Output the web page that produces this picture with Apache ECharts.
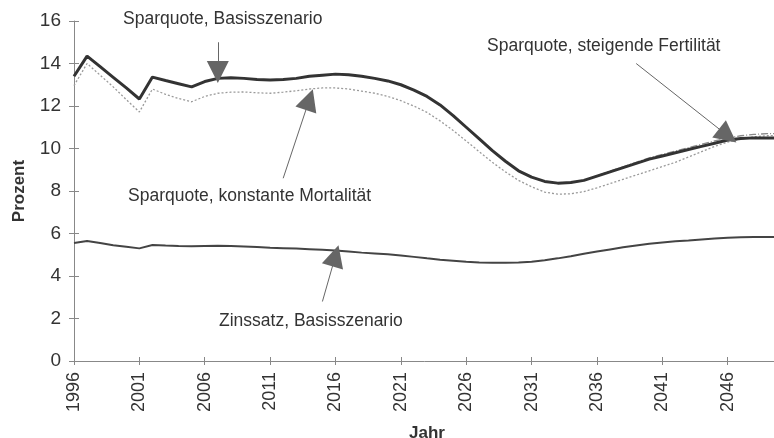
<!DOCTYPE html>
<html>
<head>
<meta charset="utf-8">
<script src="https://cdn.jsdelivr.net/npm/echarts@6/dist/echarts.min.js"></script>
<style>
  html, body { margin: 0; padding: 0; background: #fff; }
  #chart { width: 774px; height: 438px; }
</style>
</head>
<body>
<div id="chart"></div>
<script>
// Jahre 1996..2050
const years = [];
for (let y = 1996; y <= 2050; y++) years.push(String(y));

const yTicks = [0, 2, 4, 6, 8, 10, 12, 14, 16];

const sparBasis = [
  13.4, 14.35, 13.85, 13.35, 12.85, 12.33, 13.36, 13.2, 13.05, 12.9,
  13.15, 13.3, 13.33, 13.3, 13.25, 13.22, 13.25, 13.3, 13.4, 13.45,
  13.5, 13.47, 13.4, 13.3, 13.18, 13.0, 12.75, 12.45, 12.05, 11.55,
  11.0, 10.45, 9.9, 9.4, 8.95, 8.65, 8.45, 8.37, 8.4, 8.5,
  8.7, 8.9, 9.1, 9.3, 9.5, 9.65, 9.8, 9.95, 10.1, 10.25,
  10.4, 10.47, 10.5, 10.5, 10.5
];

const sparMortalitaet = [
  12.96, 14.0, 13.45, 12.9, 12.3, 11.72, 12.8, 12.55, 12.35, 12.2,
  12.45, 12.6, 12.65, 12.66, 12.62, 12.6, 12.65, 12.72, 12.8, 12.85,
  12.85, 12.8, 12.7, 12.6, 12.45, 12.25, 12.0, 11.7, 11.3, 10.85,
  10.35, 9.85, 9.35, 8.9, 8.5, 8.2, 7.95, 7.85, 7.87, 7.97,
  8.15, 8.35, 8.55, 8.75, 8.95, 9.15, 9.35, 9.6, 9.85, 10.1,
  10.3, 10.45, 10.55, 10.6, 10.62
];

const sparFertilitaet = [
  13.4, 14.35, 13.85, 13.35, 12.85, 12.33, 13.36, 13.2, 13.05, 12.9,
  13.15, 13.3, 13.33, 13.3, 13.25, 13.22, 13.25, 13.3, 13.4, 13.45,
  13.5, 13.47, 13.4, 13.3, 13.18, 13.0, 12.75, 12.45, 12.05, 11.55,
  11.0, 10.45, 9.9, 9.4, 8.95, 8.65, 8.45, 8.37, 8.4, 8.5,
  8.72, 8.93, 9.14, 9.35, 9.56, 9.72, 9.88, 10.04, 10.2, 10.36,
  10.5, 10.6, 10.66, 10.7, 10.7
];

const zinsBasis = [
  5.55, 5.65, 5.55, 5.45, 5.38, 5.3, 5.46, 5.43, 5.41, 5.4,
  5.41, 5.42, 5.41, 5.39, 5.36, 5.33, 5.31, 5.29, 5.26, 5.23,
  5.2, 5.15, 5.1, 5.06, 5.02, 4.97, 4.9, 4.83, 4.77, 4.72,
  4.67, 4.63, 4.62, 4.62, 4.63, 4.67, 4.74, 4.83, 4.93, 5.05,
  5.15, 5.25, 5.35, 5.44, 5.52, 5.58, 5.63, 5.67, 5.72, 5.76,
  5.8, 5.82, 5.83, 5.83, 5.83
];

// Beschriftungspfeile: [Start, Spitze] in Datenkoordinaten
const arrowBasis = [['2007', 15.0], ['2007', 13.6]];
const arrowMortalitaet = [['2012', 8.6], ['2014', 12.3]];
const arrowFertilitaet = [['2039', 14.0], ['2046', 10.6]];
const arrowZins = [['2015', 2.8], ['2016', 4.95]];

const textColor = '#333';
const font = 'Liberation Sans, Arial, sans-serif';

function arrow(pts) {
  return {
    silent: true,
    animation: false,
    symbol: ['none', 'triangle'],
    symbolSize: [22, 22],
    label: { show: false },
    lineStyle: { color: '#666', width: 1, type: 'solid' },
    itemStyle: { color: '#2e2e2e' },
    data: [[{ coord: pts[0] }, { coord: pts[1] }]]
  };
}

const chart = echarts.init(document.getElementById('chart'));

chart.setOption({
  animation: false,
  backgroundColor: '#fff',
  grid: { left: 74, right: -6, top: 21, bottom: 77, containLabel: false, outerBoundsMode: 'none' },
  xAxis: [
    {
      type: 'category',
      data: years,
      boundaryGap: false,
      name: 'Jahr',
      nameLocation: 'middle',
      nameGap: 64,
      nameTextStyle: { color: textColor, fontFamily: font, fontSize: 17, fontWeight: 'bold' },
      axisLine: { lineStyle: { color: '#888', width: 1 } },
      axisTick: { interval: 4, length: 4, lineStyle: { color: '#888' } },
      axisLabel: {
        interval: 4,
        rotate: 90,
        margin: 11,
        color: textColor,
        fontFamily: font,
        fontSize: 18
      },
      splitLine: { show: false }
    },
    {
      type: 'category',
      data: years,
      boundaryGap: false,
      position: 'bottom',
      axisLine: { show: false },
      axisTick: { inside: true, interval: 4, length: 4, lineStyle: { color: '#888' } },
      axisLabel: { show: false },
      splitLine: { show: false }
    }
  ],
  yAxis: [
    {
      type: 'value',
      min: 0,
      max: 16,
      interval: 2,
      name: 'Prozent',
      nameLocation: 'middle',
      nameGap: 46,
      nameTextStyle: { color: textColor, fontFamily: font, fontSize: 17, fontWeight: 'bold' },
      axisLine: { show: true, lineStyle: { color: '#888', width: 1 } },
      axisTick: { show: true, length: 5, lineStyle: { color: '#888' } },
      axisLabel: {
        margin: 13,
        color: textColor,
        fontFamily: font,
        fontSize: 19,
        formatter: (v) => (yTicks.includes(v) ? String(v) : '')
      },
      splitLine: { show: false }
    },
    {
      type: 'value',
      min: 0,
      max: 16,
      interval: 2,
      position: 'left',
      axisLine: { show: false },
      axisTick: { show: true, inside: true, length: 5, lineStyle: { color: '#888' } },
      axisLabel: { show: false },
      splitLine: { show: false }
    }
  ],
  graphic: [
    { type: 'text', left: 123, top: 10, style: { text: 'Sparquote, Basisszenario', fill: textColor, font: '17.5px ' + font } },
    { type: 'text', left: 487, top: 37, style: { text: 'Sparquote, steigende Fertilität', fill: textColor, font: '17.5px ' + font } },
    { type: 'text', left: 128, top: 187, style: { text: 'Sparquote, konstante Mortalität', fill: textColor, font: '17.5px ' + font } },
    { type: 'text', left: 219, top: 312, style: { text: 'Zinssatz, Basisszenario', fill: textColor, font: '17.5px ' + font } }
  ],
  series: [
    {
      name: 'Sparquote, steigende Fertilität',
      type: 'line',
      data: sparFertilitaet,
      symbol: 'none',
      z: 2,
      lineStyle: { color: '#8a8a8a', width: 1.3, type: [7, 2, 1, 2] },
      markLine: arrow(arrowFertilitaet)
    },
    {
      name: 'Sparquote, konstante Mortalität',
      type: 'line',
      data: sparMortalitaet,
      symbol: 'none',
      z: 2,
      lineStyle: { color: '#9a9a9a', width: 1.3, type: [2, 2] },
      markLine: arrow(arrowMortalitaet)
    },
    {
      name: 'Sparquote, Basisszenario',
      type: 'line',
      data: sparBasis,
      symbol: 'none',
      z: 3,
      lineStyle: { color: '#333', width: 3 },
      markLine: arrow(arrowBasis)
    },
    {
      name: 'Zinssatz, Basisszenario',
      type: 'line',
      data: zinsBasis,
      symbol: 'none',
      z: 3,
      lineStyle: { color: '#444', width: 2 },
      markLine: arrow(arrowZins)
    }
  ]
});
</script>
</body>
</html>
